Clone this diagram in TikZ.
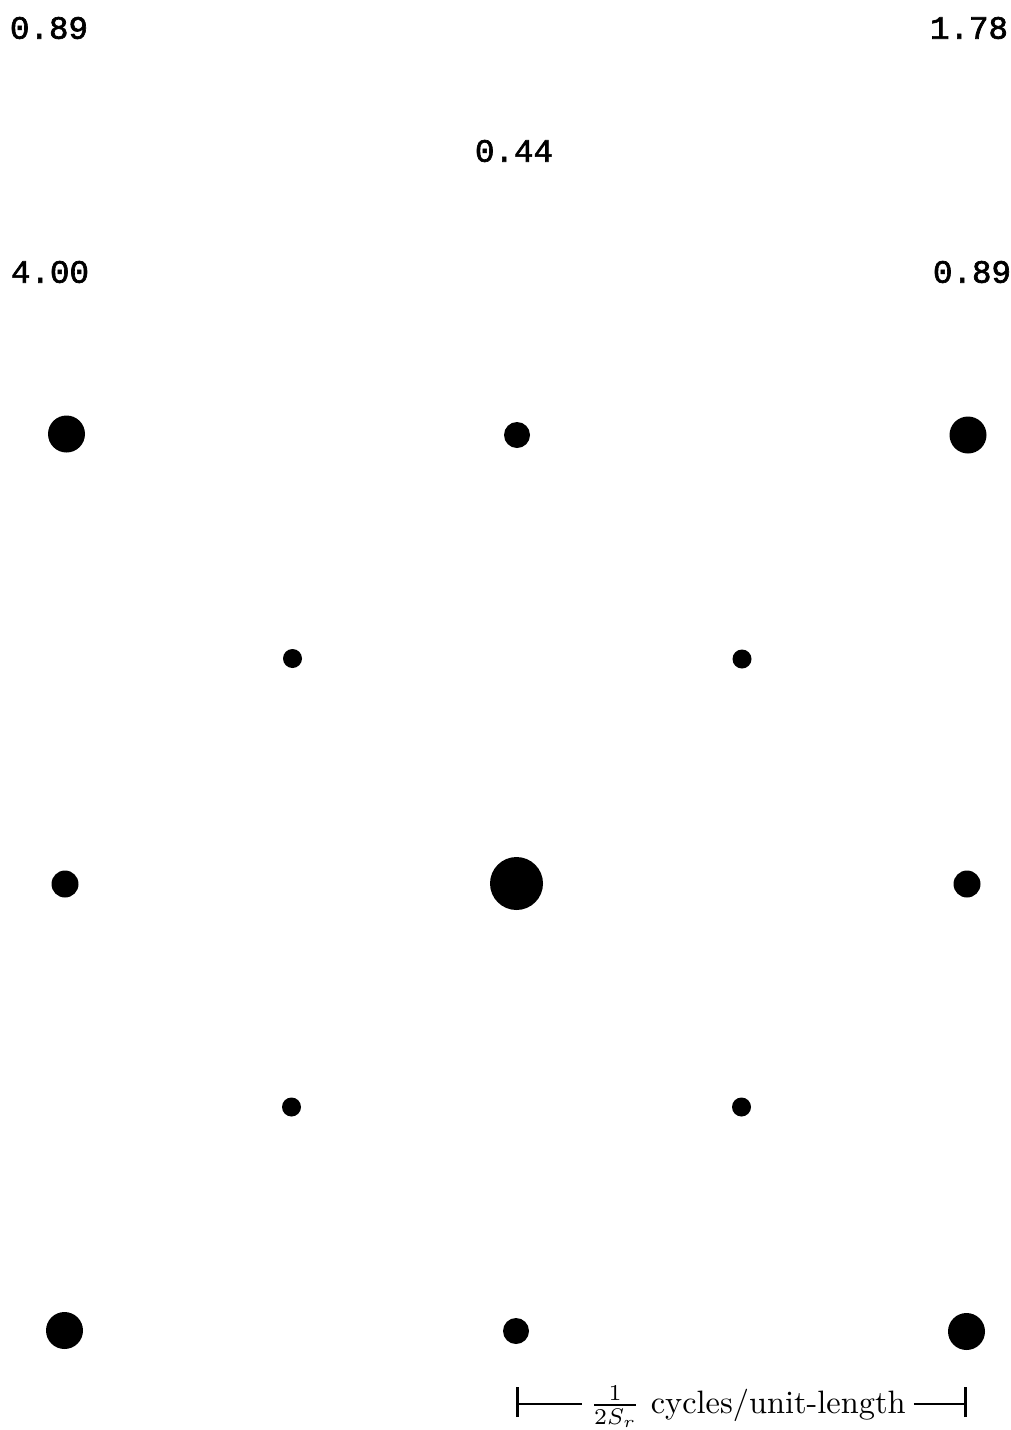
\documentclass[tikz,border=0pt]{standalone}
\usepackage{graphicx}
\usepackage{fontspec}
\newfontfamily\typew{Liberation Mono}[FakeBold=2]
\begin{document}
\begin{tikzpicture}[x=1pt,y=-1pt,
  spot/.style={circle,fill=black,inner sep=0pt,minimum size=#1},
  val/.style={font=\typew\fontsize{32.5}{36}\selectfont,inner sep=0pt},
  tick/.style={line width=3pt},
  barline/.style={line width=2.2pt}]
\useasboundingbox (0,0) rectangle (1011,1430);
% labels
\node[val] (v1) at (49,28) {0.89};
\node[val] (v2) at (969,28) {1.78};
\node[val] (v3) at (514,151) {0.44};
\node[val] (v4) at (50,272) {4.00};
\node[val] (v5) at (972,272) {0.89};
% spots
\node[spot=37pt] (a1) at (66.5,434) {};
\node[spot=26pt] (a2) at (517,435) {};
\node[spot=37pt] (a3) at (968,435) {};
\node[spot=19pt] (b1) at (292.5,658.5) {};
\node[spot=19pt] (b2) at (742,659) {};
\node[spot=27pt] (c1) at (65,884) {};
\node[spot=53pt] (c2) at (516.5,883.5) {};
\node[spot=27pt] (c3) at (967,884) {};
\node[spot=19pt] (d1) at (291.5,1107) {};
\node[spot=19pt] (d2) at (741.5,1107) {};
\node[spot=37pt] (e1) at (64.5,1330.5) {};
\node[spot=26pt] (e2) at (516,1331) {};
\node[spot=37pt] (e3) at (966.5,1331.5) {};
% scale bar
\coordinate (barL) at (517,1404);
\coordinate (barR) at (965,1404);
\node[anchor=base,inner xsep=8pt,inner ysep=0pt] (lbl) at (748,1413)
  {\scalebox{3.24}{$\frac{1}{2S_r}$ cycles/unit-length}};
\draw[barline] (barL) -- (lbl.west |- barL);
\draw[barline] (lbl.east |- barR) -- (barR);
\draw[tick] ([yshift=-13pt]barL) -- ([yshift=17pt]barL);
\draw[tick] ([yshift=-13pt]barR) -- ([yshift=17pt]barR);
\end{tikzpicture}
\end{document}
